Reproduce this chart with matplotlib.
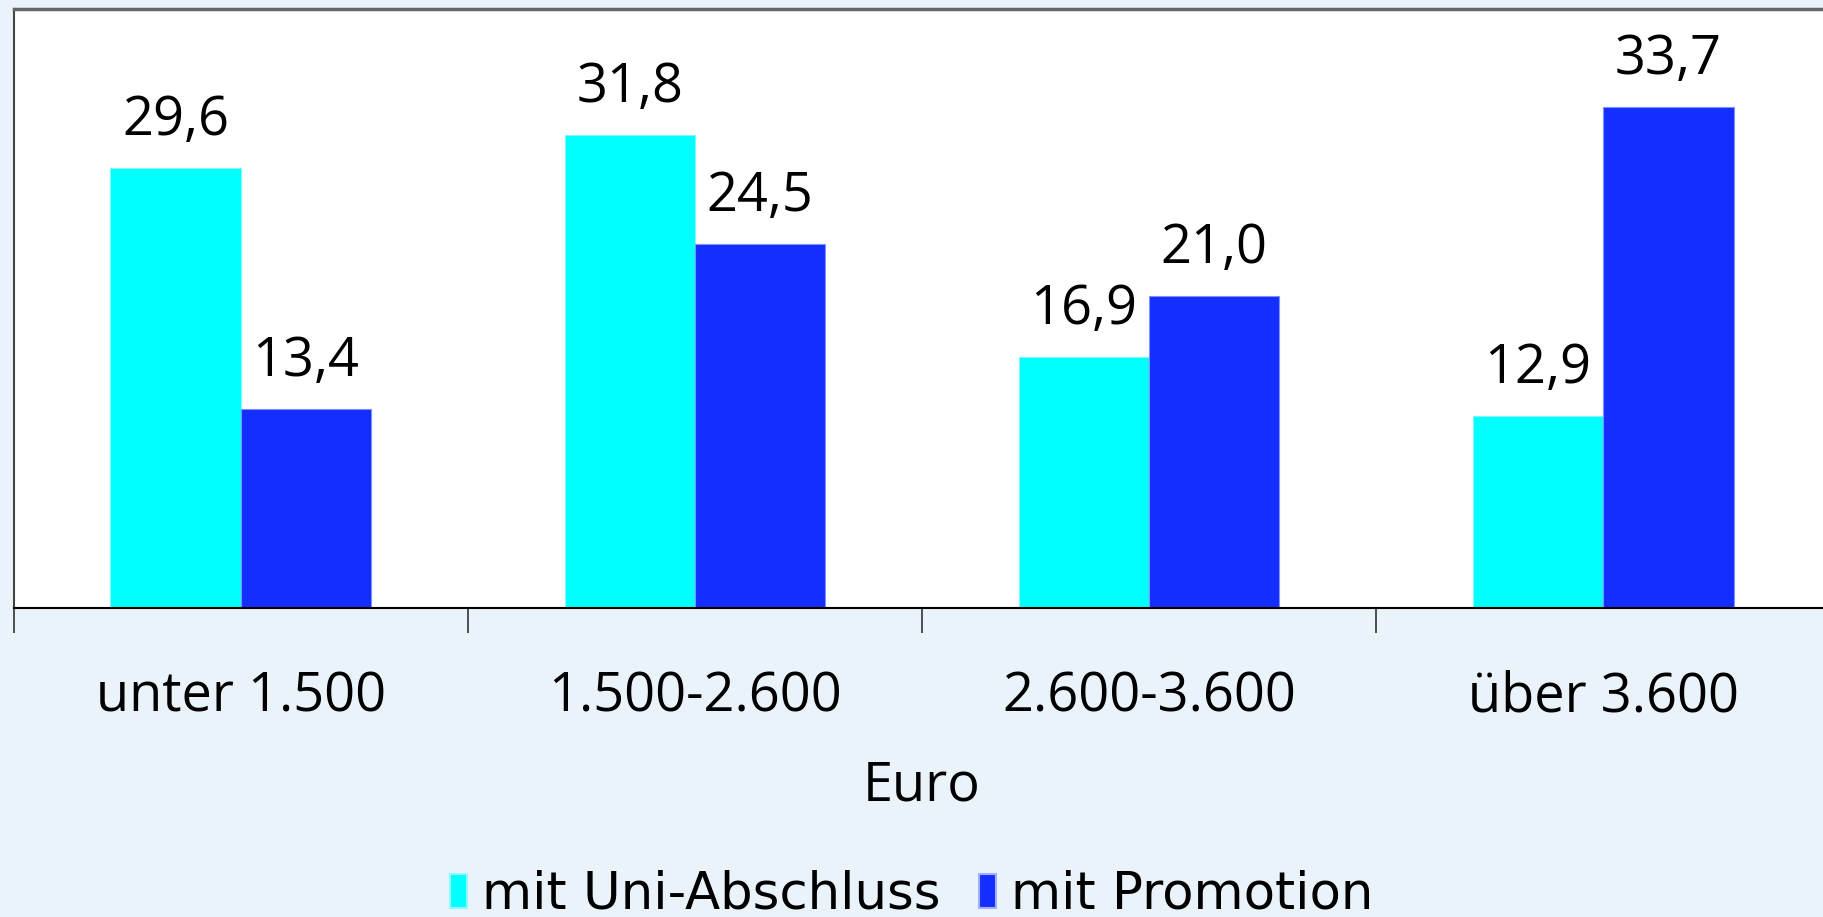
import matplotlib
matplotlib.use('Agg')
from matplotlib import pyplot as plt
from matplotlib.patches import Patch
import numpy as np

# Einkommensklassen (Euro) und Anteile in Prozent
categories = ['unter 1.500', '1.500-2.600', '2.600-3.600', 'über 3.600']
uni = [29.6, 31.8, 16.9, 12.9]         # mit Uni-Abschluss
promotion = [13.4, 24.5, 21.0, 33.7]   # mit Promotion
series_names = ['mit Uni-Abschluss', 'mit Promotion']

bg = '#eaf2fa'
c_uni = '#00ffff'
c_prom = '#132eff'

plt.rcParams['font.family'] = ['Open Sans', 'DejaVu Sans']

fig = plt.figure(figsize=(18.24, 9.17), dpi=100, facecolor=bg)
ax = fig.add_axes([0.0075, 0.337, 0.996, 0.653])
ax.set_facecolor('white')

x = np.arange(len(categories))
w = 0.287
ax.bar(x - w/2, uni, w, color=c_uni, edgecolor='#7ff7ff', linewidth=0.8, zorder=2)
ax.bar(x + w/2, promotion, w, color=c_prom, edgecolor='#8090ff', linewidth=0.8, zorder=2)

# Werte ueber den Balken, deutsches Dezimalkomma
for xi, v in zip(x - w/2, uni):
    ax.text(xi, v + 1.35, ('%.1f' % v).replace('.', ','), ha='center', va='bottom',
            fontsize=39)
for xi, v in zip(x + w/2, promotion):
    ax.text(xi, v + 1.35, ('%.1f' % v).replace('.', ','), ha='center', va='bottom',
            fontsize=39)

ax.set_xlim(-0.5, 3.5)
ax.set_ylim(0, 40.3)
ax.set_yticks([])

ax.set_xticks(x)
ax.set_xticklabels(categories, fontsize=39)
ax.tick_params(axis='x', which='major', length=0, pad=44.5)
ax.set_xticks([-0.5, 0.5, 1.5, 2.5], minor=True)
ax.tick_params(axis='x', which='minor', length=18, width=1.2, color='#333333', direction='out')

ax.set_xlabel('Euro', fontsize=39, labelpad=24)

ax.spines['right'].set_visible(False)
ax.spines['top'].set_color('#666666')
ax.spines['top'].set_linewidth(2.5)
ax.spines['left'].set_color('#444444')
ax.spines['left'].set_linewidth(1.5)
ax.spines['bottom'].set_color('black')
ax.spines['bottom'].set_linewidth(1.5)

handles = [Patch(facecolor=c_uni, edgecolor='#8ff8ff', linewidth=1.5),
           Patch(facecolor=c_prom, edgecolor='#a0b0ff', linewidth=1.5)]
fig.legend(handles, series_names, loc='center', bbox_to_anchor=(0.5, 0.024),
           ncol=2, frameon=False, handlelength=0.32, handleheight=0.62,
           handletextpad=0.3, columnspacing=0.75,
           prop={'family': ['DejaVu Sans'], 'size': 37})

plt.savefig('out.png', dpi=100, facecolor=bg)
